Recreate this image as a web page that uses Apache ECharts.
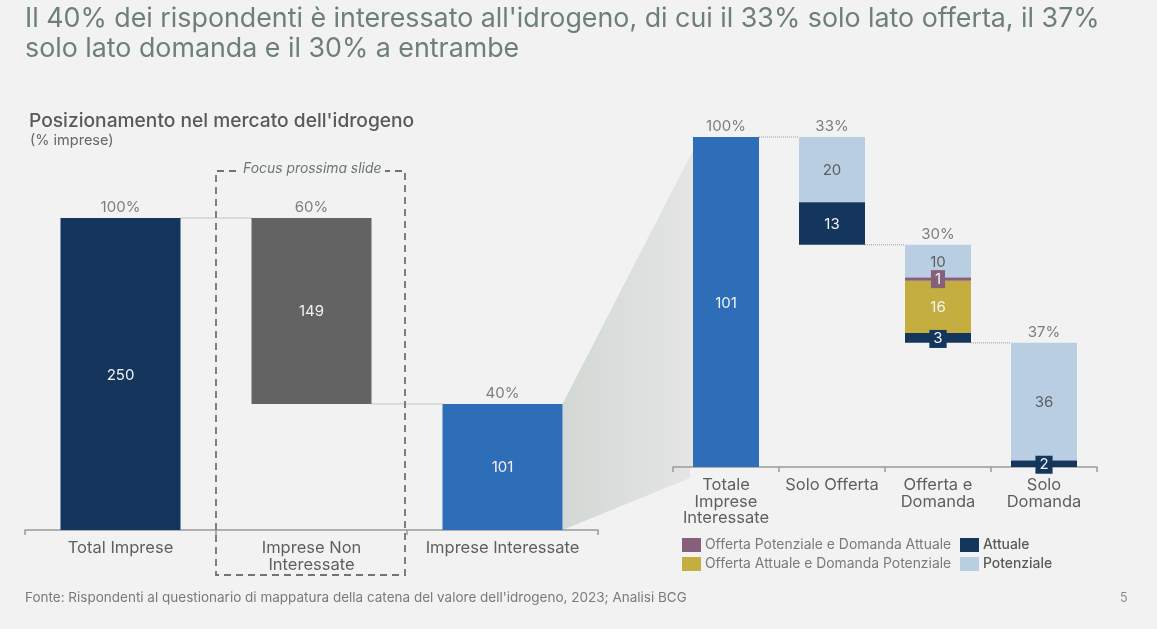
<!DOCTYPE html>
<html>
<head>
<meta charset="utf-8">
<style>
  html, body { margin: 0; padding: 0; background: #f2f2f2; }
  #chart { width: 1157px; height: 629px; }
</style>
<script src="https://cdn.jsdelivr.net/npm/echarts@6/dist/echarts.min.js"></script>
</head>
<body>
<div id="chart"></div>
<script>
var FONT = "Inter";

// left chart
var leftCategories = ["Total Imprese", "Imprese Non\nInteressate", "Imprese Interessate"];
var leftBase = [0, 101, 0];
var leftValues = [250, 149, 101];
var leftTops = [250, 250, 101];
var leftPct = ["100%", "60%", "40%"];
var leftLinks = [[0, 1, 250], [1, 2, 101]];

// right chart
var rightCategories = ["Totale\nImprese\nInteressate", "Solo Offerta", "Offerta e\nDomanda", "Solo\nDomanda"];
var rightBase = [0, 68, 38, 0];
var rightTotal = [101, null, null, null];
var rightAttuale = [null, 13, 3, 2];
var rightOffAttDomPot = [null, null, 16, null];
var rightOffPotDomAtt = [null, null, 1, null];
var rightPotenziale = [null, 20, 10, 36];
var rightTops = [101, 101, 68, 38];
var rightPct = ["100%", "33%", "30%", "37%"];
var rightLinks = [[0, 1, 101], [1, 2, 68], [2, 3, 38]];

var leftBarWidth = 120;
var rightBarWidth = 66;

var chart = echarts.init(document.getElementById("chart"));

function barLabel(color) {
  return { show: true, position: "inside", offset: [0, 1], color: color, fontFamily: FONT, fontSize: 15 };
}
// small segments get their number on a little box of the same colour
function boxLabel(bg) {
  return { show: true, position: "inside", color: "#f2f2f2", fontFamily: FONT, fontSize: 15,
           backgroundColor: bg, padding: [2, 4, 1, 4] };
}
function baseSeries(name, data, idx) {
  return { name: name, type: "bar", stack: name, data: data, xAxisIndex: idx, yAxisIndex: idx,
           itemStyle: { color: "transparent" }, silent: true };
}
function pctSeries(tops, pct, idx) {
  return {
    type: "scatter", xAxisIndex: idx, yAxisIndex: idx, symbolSize: 0,
    data: tops.map(function (t, i) { return [i, t]; }),
    label: { show: true, position: "top", distance: 3, color: "#5f5f5f", fontFamily: FONT, fontSize: 15,
             formatter: function (p) { return pct[p.dataIndex]; } }
  };
}
function linkSeries(links, idx, barW) {
  return {
    type: "custom", xAxisIndex: idx, yAxisIndex: idx, data: links, z: 1, silent: true,
    encode: { x: 0, y: 2 },
    renderItem: function (params, api) {
      var a = api.coord([api.value(0), api.value(2)]);
      var b = api.coord([api.value(1), api.value(2)]);
      return { type: "line",
               shape: { x1: a[0] + barW / 2, y1: a[1], x2: b[0] - barW / 2, y2: b[1] },
               style: { stroke: "#999", lineWidth: 1, lineDash: [1, 1] } };
    }
  };
}
function xAxis(idx, cats) {
  return {
    type: "category", gridIndex: idx, data: cats,
    axisLine: { lineStyle: { color: "#9a9a9a", width: 1.5 } },
    axisTick: { show: true, alignWithLabel: false, length: 5, lineStyle: { color: "#9a9a9a", width: 1.5 } },
    axisLabel: { interval: 0, color: "#5f5f5f", fontFamily: FONT, fontSize: 16.5, lineHeight: 16.5, margin: 10 }
  };
}

var legendStyle = { type: "plain", orient: "vertical", itemWidth: 19, itemHeight: 14, itemGap: 5, padding: 0, icon: "rect",
                    selectedMode: false };

chart.setOption({
  backgroundColor: "#f2f2f2",
  animation: false,
  title: [
    { text: "Il 40% dei rispondenti è interessato all'idrogeno, di cui il 33% solo lato offerta, il 37%\nsolo lato domanda e il 30% a entrambe",
      left: 25, top: 4, padding: 0,
      textStyle: { color: "#6e7f78", fontFamily: FONT, fontSize: 26.8, fontWeight: 400, lineHeight: 30 } },
    { text: "Posizionamento nel mercato dell'idrogeno", left: 29, top: 111, padding: 0,
      textStyle: { color: "#595959", fontFamily: FONT, fontSize: 19.2, fontWeight: 500, lineHeight: 20 } },
    { text: "(% imprese)", left: 30, top: 133, padding: 0,
      textStyle: { color: "#666", fontFamily: FONT, fontSize: 14.5, fontWeight: 400, lineHeight: 16 } },
    { text: "Fonte: Rispondenti al questionario di mappatura della catena del valore dell'idrogeno, 2023; Analisi BCG",
      left: 25, top: 591, padding: 0,
      textStyle: { color: "#7a7a7a", fontFamily: FONT, fontSize: 13.5, fontWeight: 400, lineHeight: 14 } },
    { text: "5", left: 1120, top: 591, padding: 0,
      textStyle: { color: "#8a8a8a", fontFamily: FONT, fontSize: 12.5, fontWeight: 400, lineHeight: 14 } }
  ],
  legend: [
    Object.assign({}, legendStyle, { left: 682, top: 538, data: ["Offerta Potenziale e Domanda Attuale", "Offerta Attuale e Domanda Potenziale"],
      textStyle: { color: "#7a7a7a", fontFamily: FONT, fontSize: 13.9, padding: [2, 0, 0, -1] } }),
    Object.assign({}, legendStyle, { left: 960, top: 538, data: ["Attuale", "Potenziale"],
      textStyle: { color: "#595959", fontFamily: FONT, fontSize: 13.9, fontWeight: 500, padding: [2, 0, 0, -1] } })
  ],
  grid: [
    { left: 25, width: 573, top: 218, height: 312 },
    { left: 673, width: 424, top: 137, height: 330 }
  ],
  xAxis: [xAxis(0, leftCategories), xAxis(1, rightCategories)],
  yAxis: [
    { type: "value", gridIndex: 0, min: 0, max: 250, show: false },
    { type: "value", gridIndex: 1, min: 0, max: 101, show: false }
  ],
  series: [
    baseSeries("baseLeft", leftBase, 0),
    {
      name: "Imprese", type: "bar", stack: "baseLeft", barWidth: leftBarWidth, xAxisIndex: 0, yAxisIndex: 0,
      data: [
        { value: leftValues[0], itemStyle: { color: "#14355c" } },
        { value: leftValues[1], itemStyle: { color: "#636363" } },
        { value: leftValues[2], itemStyle: { color: "#2e6db8" } }
      ],
      label: barLabel("#f2f2f2")
    },
    pctSeries(leftTops, leftPct, 0),
    linkSeries(leftLinks, 0, leftBarWidth),

    baseSeries("baseRight", rightBase, 1),
    { name: "Totale", type: "bar", stack: "baseRight", barWidth: rightBarWidth, xAxisIndex: 1, yAxisIndex: 1,
      data: rightTotal, itemStyle: { color: "#2e6db8" }, label: barLabel("#f2f2f2") },
    { name: "Attuale", type: "bar", stack: "baseRight", xAxisIndex: 1, yAxisIndex: 1, z: 3,
      data: rightAttuale.map(function (v) {
        // 3 and 2 do not fit in their thin bars
        return v !== null && v < 5 ? { value: v, label: boxLabel("#14355c") } : v;
      }),
      itemStyle: { color: "#14355c" }, label: barLabel("#f2f2f2") },
    { name: "Offerta Attuale e Domanda Potenziale", type: "bar", stack: "baseRight", xAxisIndex: 1, yAxisIndex: 1,
      data: rightOffAttDomPot, itemStyle: { color: "#c3ae3f" }, label: barLabel("#f2f2f2") },
    { name: "Offerta Potenziale e Domanda Attuale", type: "bar", stack: "baseRight", xAxisIndex: 1, yAxisIndex: 1, z: 3,
      data: rightOffPotDomAtt, itemStyle: { color: "#86607a" }, label: boxLabel("#86607a") },
    { name: "Potenziale", type: "bar", stack: "baseRight", xAxisIndex: 1, yAxisIndex: 1,
      data: rightPotenziale, itemStyle: { color: "#bacee3" }, label: barLabel("#5f5f5f") },
    pctSeries(rightTops, rightPct, 1),
    linkSeries(rightLinks, 1, rightBarWidth)
  ]
});

// zoom wedge between the two charts, dashed box around the middle bar
var wedgeFromTop = chart.convertToPixel({ gridIndex: 0 }, [2, 101]);
var wedgeFromBottom = chart.convertToPixel({ gridIndex: 0 }, [2, 0]);
var wedgeToTop = chart.convertToPixel({ gridIndex: 1 }, [0, 101]);
var wedgeToBottom = chart.convertToPixel({ gridIndex: 1 }, [0, 0]);
var wedgeX = wedgeFromTop[0] + leftBarWidth / 2;
var wedgeEnd = wedgeToTop[0] - rightBarWidth / 2 + 7;

chart.setOption({
  graphic: [
    { type: "polygon", z: 0, silent: true,
      shape: { points: [
        [wedgeX, wedgeFromTop[1]], [wedgeEnd, wedgeToTop[1]], [wedgeEnd, wedgeToBottom[1]],
        [wedgeEnd - 10, wedgeToBottom[1]], [wedgeEnd - 10, wedgeToBottom[1] + 11], [wedgeX, wedgeFromBottom[1]]
      ] },
      style: { fill: new echarts.graphic.LinearGradient(0, 0, 1, 0, [
        { offset: 0, color: "#d3d8d5" }, { offset: 1, color: "#e5e6e5" }
      ]) } },
    { type: "polyline", z: 10, silent: true,
      shape: { points: [[236, 171], [216, 171], [216, 575], [405, 575], [405, 171], [385, 171]] },
      style: { fill: null, stroke: "#6b7772", lineWidth: 1.8, lineDash: [7, 5] } },
    { type: "text", z: 10, silent: true, left: 243, top: 162,
      style: { text: "Focus prossima slide", fill: "#6b7772", font: "italic 13.9px " + FONT } }
  ]
});
</script>
</body>
</html>
